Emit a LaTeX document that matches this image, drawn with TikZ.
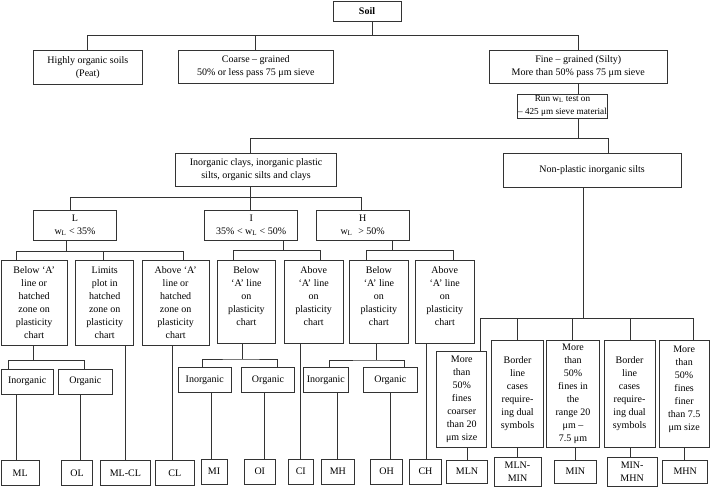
\documentclass[tikz,border=0pt]{standalone}
\usepackage{fontspec}
\setmainfont{Liberation Serif}
\newcommand\bx[6]{%
  \pgfmathsetmacro\bxcx{(#2+#4)/2}\pgfmathsetmacro\bxcy{(#3+#5)/2}%
  \pgfmathsetmacro\bxw{#4-#2}\pgfmathsetmacro\bxh{#5-#3}%
  \node[box, minimum width=\bxw pt, minimum height=\bxh pt] (#1) at (\bxcx,\bxcy) {#6};}
\newcommand\up{\rule[-12pt]{0pt}{1pt}}
\begin{document}
\begin{tikzpicture}[x=1pt,y=-1pt,
  box/.style={draw=black!80, line width=0.9pt, inner sep=0pt, align=center, font=\fontsize{10}{13}\selectfont},
  ln/.style={draw=black!80, line width=0.9pt}]
\useasboundingbox[fill=white] (0,0) rectangle (710,487);
% boxes
\bx{soil}{333}{1.5}{401}{21}{\textbf{Soil}}
\bx{peat}{33.3}{50.3}{142.3}{84.7}{Highly organic soils\\(Peat)}
\bx{coarse}{178}{50.3}{333.7}{83.3}{Coarse – grained\\50\% or less pass 75 μm sieve}
\bx{fine}{489.3}{50.3}{667.3}{83}{Fine – grained (Silty)\\More than 50\% pass 75 μm sieve}
\bx{run}{517.3}{94}{607.7}{118}{\fontsize{9.2}{12.5}\selectfont Run w\textsubscript{L} test on\\\fontsize{9.2}{12.5}\selectfont – 425 μm sieve material}
\bx{inorg}{175.7}{153.3}{336.5}{186.7}{Inorganic clays, inorganic plastic\\silts, organic silts and clays}
\bx{nonpl}{503.3}{153.3}{681}{187}{Non-plastic inorganic silts}
\bx{L}{33.3}{210}{116.7}{240}{L\\w\textsubscript{L} < 35\%}
\bx{I}{204.7}{210}{297.7}{240}{I\\35\% < w\textsubscript{L} < 50\%}
\bx{H}{316}{210}{409.3}{240}{H\\w\textsubscript{L}\,\, > 50\%}
\bx{L1}{1}{260.7}{67.3}{345}{Below ‘A’\\line or\\hatched\\zone on\\plasticity\\chart}
\bx{L2}{75.7}{260.7}{133.7}{345}{Limits\\plot in\\hatched\\zone on\\plasticity\\chart}
\bx{L3}{142.3}{260.7}{209}{345}{Above ‘A’\\line or\\hatched\\zone on\\plasticity\\chart}
\bx{I1}{217}{260}{275.7}{343.3}{Below\\‘A’ line\\on\\plasticity\\chart\up}
\bx{I2}{284.3}{260}{343}{343.3}{Above\\‘A’ line\\on\\plasticity\\chart\up}
\bx{H1}{349.5}{260}{408.3}{343.3}{Below\\‘A’ line\\on\\plasticity\\chart\up}
\bx{H2}{415.3}{260}{474.3}{343.3}{Above\\‘A’ line\\on\\plasticity\\chart\up}
\bx{Li}{1}{369}{53.3}{394}{Inorganic}
\bx{Lo}{58.7}{369}{112}{394}{Organic}
\bx{Ii}{178.3}{367.7}{231.3}{392.3}{Inorganic}
\bx{Io}{241.3}{367.7}{294.7}{392.3}{Organic}
\bx{Hi}{303.7}{367.7}{348}{392.3}{Inorganic}
\bx{Ho}{363.3}{367.7}{417.3}{392.3}{Organic}
\bx{ML}{1}{460.7}{39.3}{485}{ML}
\bx{OL}{61.3}{460.7}{92.7}{485}{OL}
\bx{MLCL}{100}{460.7}{150.7}{485}{ML-CL}
\bx{CL}{155.3}{460.7}{194.3}{485}{CL}
\bx{MI}{201}{459}{227}{484}{MI}
\bx{OI}{244.3}{459}{275.3}{484}{OI}
\bx{CI}{288.3}{459}{313.3}{484}{CI}
\bx{MH}{321.7}{459}{354}{484}{MH}
\bx{OH}{370.7}{459}{402.7}{484}{OH}
\bx{CH}{409.3}{459}{441.7}{484}{CH}
\bx{R1}{436.7}{351.7}{486.7}{447.3}{More\\than\\50\%\\fines\\coarser\\than 20\\μm size}
\bx{R2}{491.7}{340}{543.3}{447.7}{Border\\line\\cases\\require-\\ing dual\\symbols}
\bx{R3}{546.7}{340}{599.3}{447.7}{More\\than\\50\%\\fines in\\the\\range 20\\μm –\\7.5 μm}
\bx{R4}{604}{340}{655}{447.7}{Border\\line\\cases\\require-\\ing dual\\symbols}
\bx{R5}{659.3}{340}{709}{447.7}{More\\than\\50\%\\fines\\finer\\than 7.5\\μm size\up}
\bx{MLN}{446.7}{460}{487.3}{483.3}{MLN}
\bx{MLNMIN}{494}{457.7}{541}{486.7}{MLN-\\MIN}
\bx{MIN}{554}{460}{596.7}{483.3}{MIN}
\bx{MINMHN}{607.3}{457}{657}{486.3}{MIN-\\MHN}
\bx{MHN}{662.7}{460}{707.7}{483.3}{MHN}
% connectors
\coordinate (j0) at (372.7,35.5);
\draw[ln] (j0 |- soil.south) -- (j0);
\draw[ln] (peat.north) |- (j0) -| (fine.north);
\draw[ln] (coarse.north) -- (coarse.north |- j0);
\draw[ln] (fine.south) -- (fine.south |- run.north);
\coordinate (j1) at (578.5,138.7);
\draw[ln] (j1 |- run.south) -- (j1);
\draw[ln] (250,0 |- inorg.north) |- (j1) -| (608,0 |- nonpl.north);
\coordinate (j2) at (250,197.3);
\draw[ln] (250,0 |- inorg.south) -- (250,0 |- I.north);
\draw[ln] (70,0 |- L.north) |- (j2) -| (361.7,0 |- H.north);
% L branch
\coordinate (jL) at (66.7,251.7);
\draw[ln] (66.7,0 |- L.south) -- (jL);
\draw[ln] (16.3,0 |- L1.north) |- (jL) -| (183.3,0 |- L3.north);
\draw[ln] (103.7,0 |- L2.north) -- (103.7,251.7);
% I branch
\coordinate (jI) at (283.7,250.7);
\draw[ln] (283.7,0 |- I.south) -- (jI);
\draw[ln] (233.3,0 |- I1.north) |- (jI) -| (320.7,0 |- I2.north);
% H branch
\coordinate (jH) at (392,250.7);
\draw[ln] (392,0 |- H.south) -- (jH);
\draw[ln] (366,0 |- H1.north) |- (jH) -| (453.3,0 |- H2.north);
% inorganic/organic splits
\coordinate (jL1) at (33.7,360.7);
\draw[ln] (33.7,0 |- L1.south) -- (jL1);
\draw[ln] (8.3,0 |- Li.north) |- (jL1) -| (84,0 |- Lo.north);
\coordinate (jI1) at (242.3,359);
\draw[ln] (242.3,0 |- I1.south) -- (jI1);
\draw[ln] (202.7,0 |- Ii.north) |- (jI1) -| (277.7,0 |- Io.north);
\coordinate (jH1) at (376,360);
\draw[ln] (376,0 |- H1.south) -- (jH1);
\draw[ln] (329.3,0 |- Hi.north) |- (jH1) -| (404,0 |- Ho.north);
% down to symbols
\draw[ln] (16.7,0 |- Li.south) -- (16.7,0 |- ML.north);
\draw[ln] (80.7,0 |- Lo.south) -- (80.7,0 |- OL.north);
\draw[ln] (125.7,0 |- L2.south) -- (125.7,0 |- MLCL.north);
\draw[ln] (172.3,0 |- L3.south) -- (172.3,0 |- CL.north);
\draw[ln] (211,0 |- Ii.south) -- (211,0 |- MI.north);
\draw[ln] (264.3,0 |- Io.south) -- (264.3,0 |- OI.north);
\draw[ln] (300.7,0 |- I2.south) -- (300.7,0 |- CI.north);
\draw[ln] (337.3,0 |- Hi.south) -- (337.3,0 |- MH.north);
\draw[ln] (390,0 |- Ho.south) -- (390,0 |- OH.north);
\draw[ln] (426.7,0 |- H2.south) -- (426.7,0 |- CH.north);
% non-plastic branch
\coordinate (jN) at (583.3,318.3);
\draw[ln] (583.3,0 |- nonpl.south) -- (jN);
\draw[ln] (480,0 |- R1.north) |- (jN) -| (693.3,0 |- R5.north);
\draw[ln] (517.3,0 |- R2.north) -- (517.3,318.3);
\draw[ln] (572.7,0 |- R3.north) -- (572.7,318.3);
\draw[ln] (630,0 |- R4.north) -- (630,318.3);
\draw[ln] (467.7,0 |- R1.south) -- (467.7,0 |- MLN.north);
\draw[ln] (517.7,0 |- R2.south) -- (517.7,0 |- MLNMIN.north);
\draw[ln] (575.3,0 |- R3.south) -- (575.3,0 |- MIN.north);
\draw[ln] (630,0 |- R4.south) -- (630,0 |- MINMHN.north);
\draw[ln] (684.3,0 |- R5.south) -- (684.3,0 |- MHN.north);
\end{tikzpicture}
\end{document}
